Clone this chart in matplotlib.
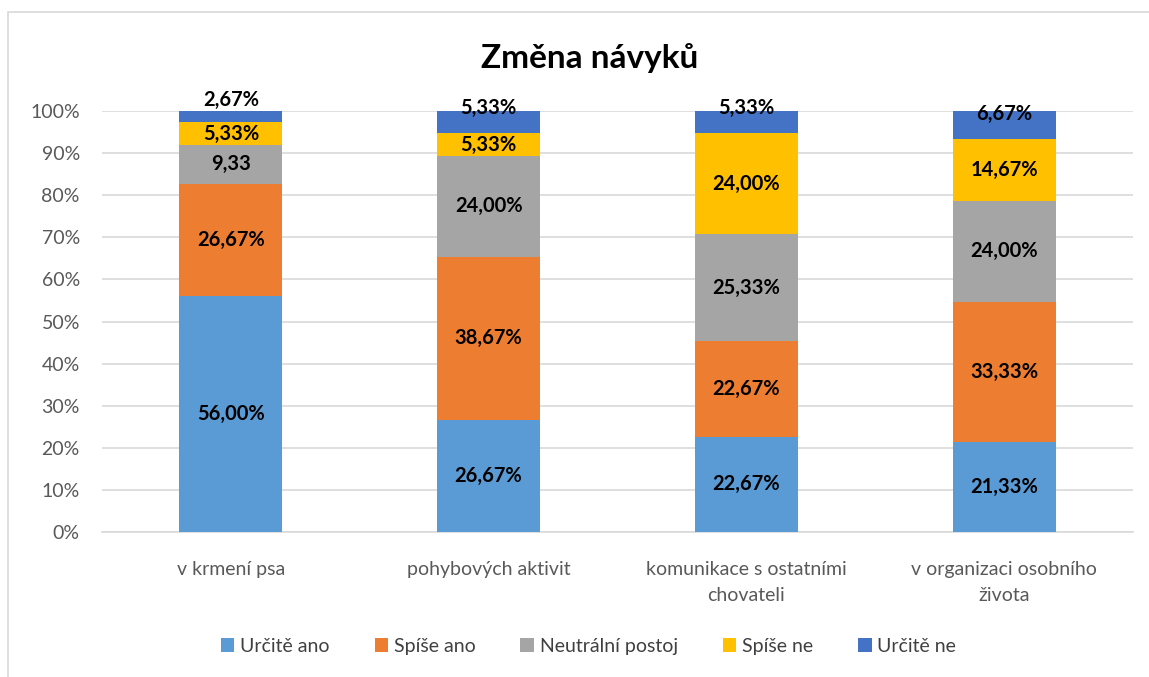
import numpy as np
import matplotlib as mpl
import matplotlib.pyplot as plt
from matplotlib.patches import Rectangle

mpl.rcParams['font.family'] = ['Lato', 'DejaVu Sans']

# Data
categories = ["v krmení psa", "pohybových aktivit",
              "komunikace s ostatními\nchovateli", "v organizaci osobního\nživota"]
series_names = ["Určitě ano", "Spíše ano", "Neutrální postoj", "Spíše ne", "Určitě ne"]
urcite_ano = [56.00, 26.67, 22.67, 21.33]
spise_ano = [26.67, 38.67, 22.67, 33.33]
neutralni = [9.33, 24.00, 25.33, 24.00]
spise_ne = [5.33, 5.33, 24.00, 14.67]
urcite_ne = [2.67, 5.33, 5.33, 6.67]
labels_urcite_ano = ["56,00%", "26,67%", "22,67%", "21,33%"]
labels_spise_ano = ["26,67%", "38,67%", "22,67%", "33,33%"]
labels_neutralni = ["9,33", "24,00%", "25,33%", "24,00%"]
labels_spise_ne = ["5,33%", "5,33%", "24,00%", "14,67%"]
labels_urcite_ne = ["2,67%", "5,33%", "5,33%", "6,67%"]
y_ticks = [0, 10, 20, 30, 40, 50, 60, 70, 80, 90, 100]

series = [urcite_ano, spise_ano, neutralni, spise_ne, urcite_ne]
labels = [labels_urcite_ano, labels_spise_ano, labels_neutralni,
          labels_spise_ne, labels_urcite_ne]
colors = ["#5B9BD5", "#ED7D31", "#A5A5A5", "#FFC000", "#4472C4"]
# vertical nudge of top labels (in % units), to mimic the original placement
top_offsets = [3.9, 3.5, 3.5, 2.6]

fig = plt.figure(figsize=(11.49, 6.77), dpi=100)
ax = fig.add_axes([0.0888, 0.2142, 0.8972, 0.6218])

fig.patches.append(Rectangle((8 / 1149, -0.01), 1.1, 1 - 12 / 677 + 0.01,
                             transform=fig.transFigure, fill=False,
                             edgecolor="#D9D9D9", linewidth=1.2))

x = np.arange(len(categories))
bottom = np.zeros(len(categories))
for i, (vals, name, col) in enumerate(zip(series, series_names, colors)):
  vals = np.array(vals)
  ax.bar(x, vals, 0.4, bottom=bottom, color=col, label=name, zorder=3)
  for j in range(len(categories)):
    yc = bottom[j] + vals[j] / 2
    if i == len(series) - 1:
      yc += top_offsets[j]
    ax.text(x[j], yc, labels[i][j], ha="center", va="center",
            fontsize=14.5, fontweight="bold", color="black", zorder=4)
  bottom += vals

ax.set_xlim(-0.5, 3.5)
ax.set_ylim(0, 100)
ax.set_yticks(y_ticks)
ax.set_yticklabels([f"{t}%" for t in y_ticks])
ax.set_xticks(x)
ax.set_xticklabels(categories, linespacing=1.65)
ax.tick_params(axis="both", length=0, labelsize=14, colors="#595959")
ax.tick_params(axis="x", pad=21)
ax.tick_params(axis="y", pad=16)
ax.yaxis.grid(True, color="#D9D9D9", linewidth=1.2, zorder=0)
for s in ["top", "right", "left"]:
  ax.spines[s].set_visible(False)
ax.spines["bottom"].set_color("#D9D9D9")
ax.spines["bottom"].set_linewidth(1.2)

fig.text(0.513, 0.915, "Změna návyků", ha="center", va="center",
         fontsize=24, fontweight="bold", color="black")

ax.legend(loc="center", bbox_to_anchor=(0.472, -0.272), ncol=5, frameon=False,
          fontsize=14, handlelength=0.7, handleheight=0.7, handletextpad=0.3,
          columnspacing=2.3, labelcolor="#404040")

fig.savefig("out.png", dpi=100)
